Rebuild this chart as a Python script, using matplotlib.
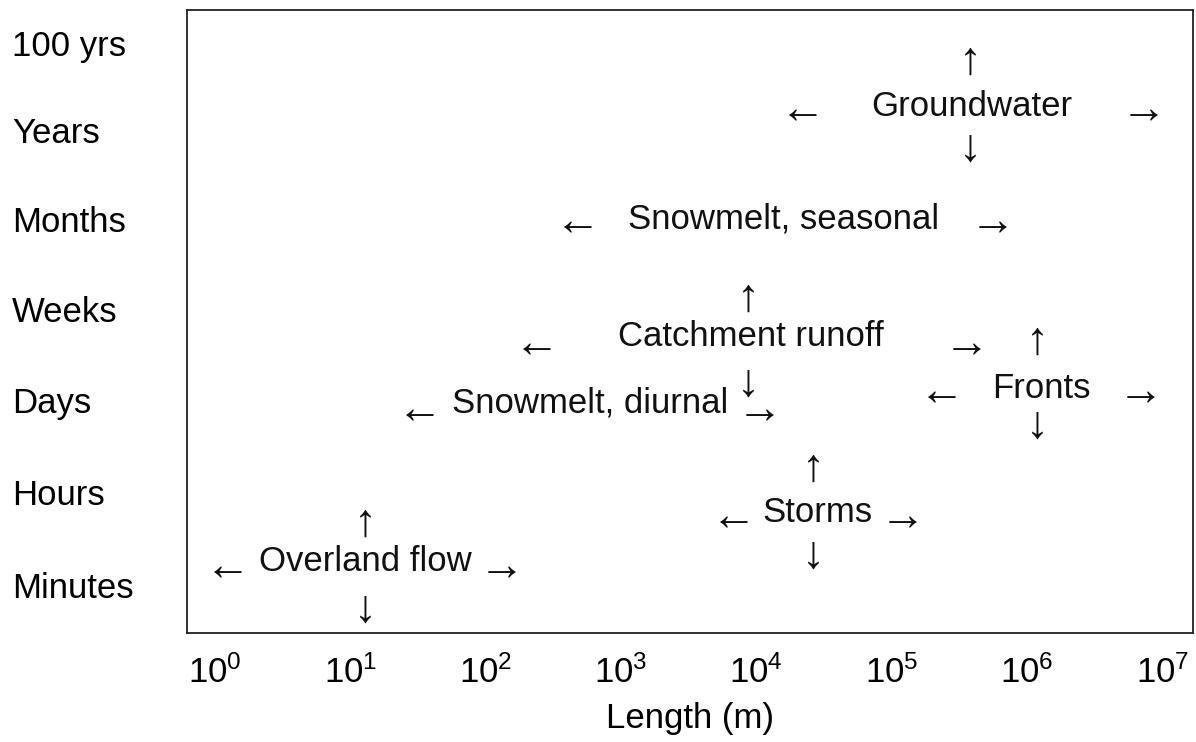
import matplotlib
matplotlib.use("Agg")
import matplotlib.pyplot as plt

plt.rcParams['font.family'] = ['Liberation Sans', 'DejaVu Sans']
plt.rcParams['mathtext.fontset'] = 'custom'
plt.rcParams['mathtext.rm'] = 'Liberation Sans'
plt.rcParams['mathtext.it'] = 'Liberation Sans:italic'
plt.rcParams['mathtext.bf'] = 'Liberation Sans:bold'

# Time-scale rows (y) and length decades (x)
time_labels = ['Minutes', 'Hours', 'Days', 'Weeks', 'Months', 'Years', '100 yrs']
time_levels = [0, 1.03, 2.05, 3.06, 4.06, 5.04, 6.0]
length_exponents = [0, 1, 2, 3, 4, 5, 6, 7]

# Processes: label centre (log10 length, time level) and arrow extents
process_names = ['Groundwater', 'Snowmelt, seasonal', 'Catchment runoff',
                 'Snowmelt, diurnal', 'Fronts', 'Storms', 'Overland flow']
center_log = [5.595, 4.205, 3.962, 2.772, 6.105, 4.449, 1.109]
center_level = [5.30, 4.06, 2.75, 2.02, 2.18, 0.81, 0.26]
left_log = [4.346, 2.676, 2.38, 1.515, 5.373, 3.829, 0.089]
right_log = [6.859, 5.75, 5.558, 4.028, 6.837, 5.085, 2.121]
horiz_level = [5.26, 4.02, 2.66, 1.93, 2.13, 0.75, 0.20]
vert_log = [5.58, None, 3.94, None, 6.075, 4.42, 1.109]
up_level = [5.80, None, 3.17, None, 2.70, 1.29, 0.68]
down_level = [4.83, None, 2.23, None, 1.76, 0.32, -0.27]

fig = plt.figure(figsize=(11.96, 7.42), dpi=100)
ax = fig.add_axes([0.1564, 0.1469, 0.8411, 0.8396])
ax.set_xscale('log')
ax.set_xlim(10 ** -0.207, 10 ** 7.228)
ax.set_ylim(-0.53, 6.37)

fs = 25
afs = 33
col = '#111111'
for i, name in enumerate(process_names):
    ax.text(10 ** center_log[i], center_level[i], name, fontsize=fs, color=col,
            ha='center', va='center')
    ax.text(10 ** left_log[i], horiz_level[i], '\u2190', fontsize=afs, color=col,
            ha='center', va='center')
    ax.text(10 ** right_log[i], horiz_level[i], '\u2192', fontsize=afs, color=col,
            ha='center', va='center')
    if vert_log[i] is not None:
        ax.text(10 ** vert_log[i], up_level[i], '\u2191', fontsize=afs, color=col,
                ha='center', va='center')
        ax.text(10 ** vert_log[i], down_level[i], '\u2193', fontsize=afs, color=col,
                ha='center', va='center')

ax.set_xticks([10.0 ** k for k in length_exponents])
ax.set_xticklabels([f'$10^{{{k}}}$' for k in length_exponents], fontsize=fs)
ax.minorticks_off()
ax.tick_params(axis='x', length=0, pad=16)
ax.set_yticks(time_levels)
ax.set_yticklabels(time_labels, fontsize=fs, ha='left')
ax.tick_params(axis='y', length=0, pad=126)
ax.set_xlabel('Length (m)', fontsize=fs, labelpad=9)

for s in ax.spines.values():
    s.set_linewidth(1.3)
    s.set_color('#222222')

fig.savefig('out.png', dpi=100)
